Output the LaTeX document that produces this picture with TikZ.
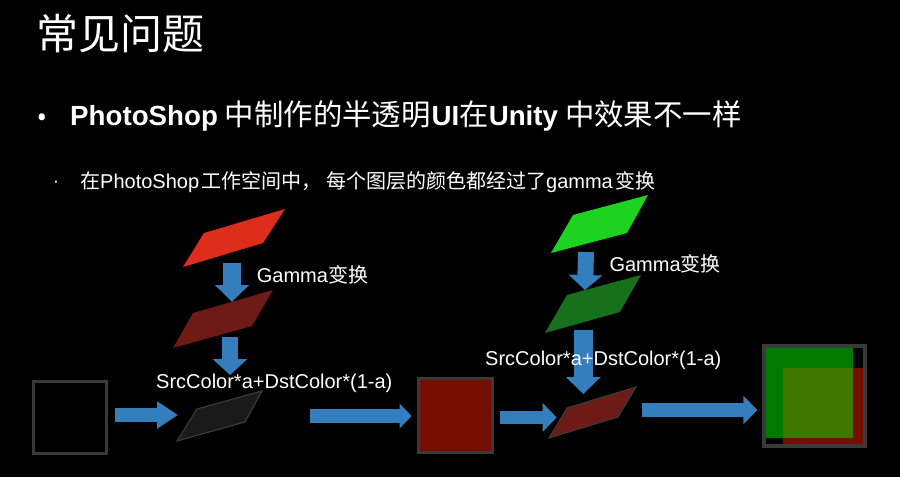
\documentclass[tikz,border=0pt]{standalone}
\usepackage{fontspec}
\usetikzlibrary{arrows.meta}
\newfontfamily\cjk{Noto Sans CJK SC}
\newfontfamily\lat{Noto Sans}
\newfontfamily\hel{Liberation Sans}
\definecolor{arrowblue}{RGB}{52,126,189}
\definecolor{redA}{RGB}{222,45,26}
\definecolor{redB}{RGB}{110,26,22}
\definecolor{greenA}{RGB}{28,212,32}
\definecolor{greenB}{RGB}{22,112,28}
\definecolor{boxred}{RGB}{118,14,0}
\definecolor{boxgreen}{RGB}{0,122,0}
\definecolor{boxolive}{RGB}{62,118,0}
\definecolor{framegray}{RGB}{58,58,58}
\definecolor{darkpar}{RGB}{26,26,26}
\begin{document}
\begin{tikzpicture}[x=1pt,y=-1pt,
  txt/.style={inner sep=0pt, text=white},
  blockarrow/.style args={#1/#2/#3}{draw=arrowblue, line width=#1pt, line cap=butt,
     -{Triangle[width=#2pt,length=#3pt]}},
  frame/.style={draw=framegray, line width=3.3pt},
  paredge/.style={draw=framegray, line width=1.2pt}
]
\fill[black] (0,0) rectangle (900,477);
\useasboundingbox (0,0) rectangle (900,477);

% ---- texts (top) ----
\node[txt, anchor=west, font=\cjk\fontsize{42}{50}\selectfont] (title) at (36.5,34) {常见问题};
\node[txt, font=\lat\fontsize{28}{32}\selectfont] (b1) at (42,120.5) {•};
\node[txt, anchor=base west] (l1) at (70,125)
  {{\hel\bfseries\fontsize{27.7}{34}\selectfont PhotoShop}\hspace{7pt}{\cjk\fontsize{29.4}{34}\selectfont 中制作的半透明}\hspace{1pt}{\hel\bfseries\fontsize{27.7}{34}\selectfont UI}{\cjk\fontsize{29.4}{34}\selectfont 在}{\hel\bfseries\fontsize{27.7}{34}\selectfont Unity}\hspace{7pt}{\cjk\fontsize{29.4}{34}\selectfont 中效果不一样}};
\node[txt, font=\lat\fontsize{9}{10}\selectfont] (b2) at (56,183) {•};
\node[txt, anchor=base west, font=\fontsize{20}{24}\selectfont] (l2) at (80,188.5)
  {{\cjk 在}{\hel PhotoShop}\hspace{2.5pt}{\cjk 工作空间中， 每个图层的颜色都经过了}{\hel gamma}\hspace{2.5pt}{\cjk 变换}};

% ---- left column ----
\fill[redA] (183,267) -- (263,243) -- (285,209) -- (204,233) -- cycle;
\fill[redB] (173,348) -- (252,326) -- (273,290) -- (193,313) -- cycle;
\path[fill=darkpar, paredge] (177,441) -- (245,422) -- (262,391) -- (197,409) -- cycle;
\path[frame] (33.6,381.6) rectangle (106.6,453.4);

% red box
\path[fill=boxred, frame] (418.6,378.6) rectangle (492.4,452.4);

% ---- right column ----
\fill[greenA] (551,253) -- (627,233) -- (648,195) -- (573,215) -- cycle;
\fill[greenB] (545,333) -- (620,312) -- (641,275) -- (567,295) -- cycle;
\path[fill=redB, paredge] (549,438) -- (618,417) -- (636,387) -- (567,408) -- cycle;

% final box
\fill[boxgreen] (766,348.3) rectangle (853.3,438.3);
\fill[boxred] (783.3,368.3) rectangle (864,446);
\fill[boxolive] (783.3,368.3) rectangle (853.3,438.3);
\draw[draw=framegray, line width=4pt] (764.3,346) rectangle (864.7,446.3);

% ---- arrow end points ----
\coordinate (a1s) at (232,263); \coordinate (a1e) at (232,302);
\coordinate (a2s) at (230,337); \coordinate (a2e) at (230,375);
\coordinate (a3s) at (586,252); \coordinate (a3e) at (585,290);
\coordinate (a4s) at (583.3,330); \coordinate (a4e) at (583.3,394);
\coordinate (h1s) at (115,415); \coordinate (h1e) at (178,415);
\coordinate (h2s) at (310,416); \coordinate (h2e) at (411.7,416);
\coordinate (h3s) at (500,417.5); \coordinate (h3e) at (556.7,417.5);
\coordinate (h4s) at (641.7,410); \coordinate (h4e) at (757.3,410);

\draw[blockarrow=18/33/17] (a1s) -- (a1e);
\draw[blockarrow=16/34/16] (a2s) -- (a2e);
\draw[blockarrow=16/33/15] (a3s) -- (a3e);
\draw[blockarrow=19/34/17] (a4s) -- (a4e);
\draw[blockarrow=14/26/21] (h1s) -- (h1e);
\draw[blockarrow=13.5/24/12] (h2s) -- (h2e);
\draw[blockarrow=13.5/28/14] (h3s) -- (h3e);
\draw[blockarrow=14.5/28/14] (h4s) -- (h4e);

% ---- labels ----
\node[txt, anchor=base west, font=\fontsize{20}{24}\selectfont] (g1) at (256.7,282.3) {{\hel Gamma}{\cjk 变换}};
\node[txt, anchor=base west, font=\fontsize{20}{24}\selectfont] (g2) at (609.3,271) {{\hel Gamma}{\cjk 变换}};
\node[txt, anchor=base west, font=\hel\fontsize{20}{24}\selectfont] (s1) at (156,388.3) {SrcColor*a+DstColor*(1-a)};
\node[txt, anchor=base west, font=\hel\fontsize{20}{24}\selectfont] (s2) at (485,365.7) {SrcColor*a+DstColor*(1-a)};
\end{tikzpicture}
\end{document}
